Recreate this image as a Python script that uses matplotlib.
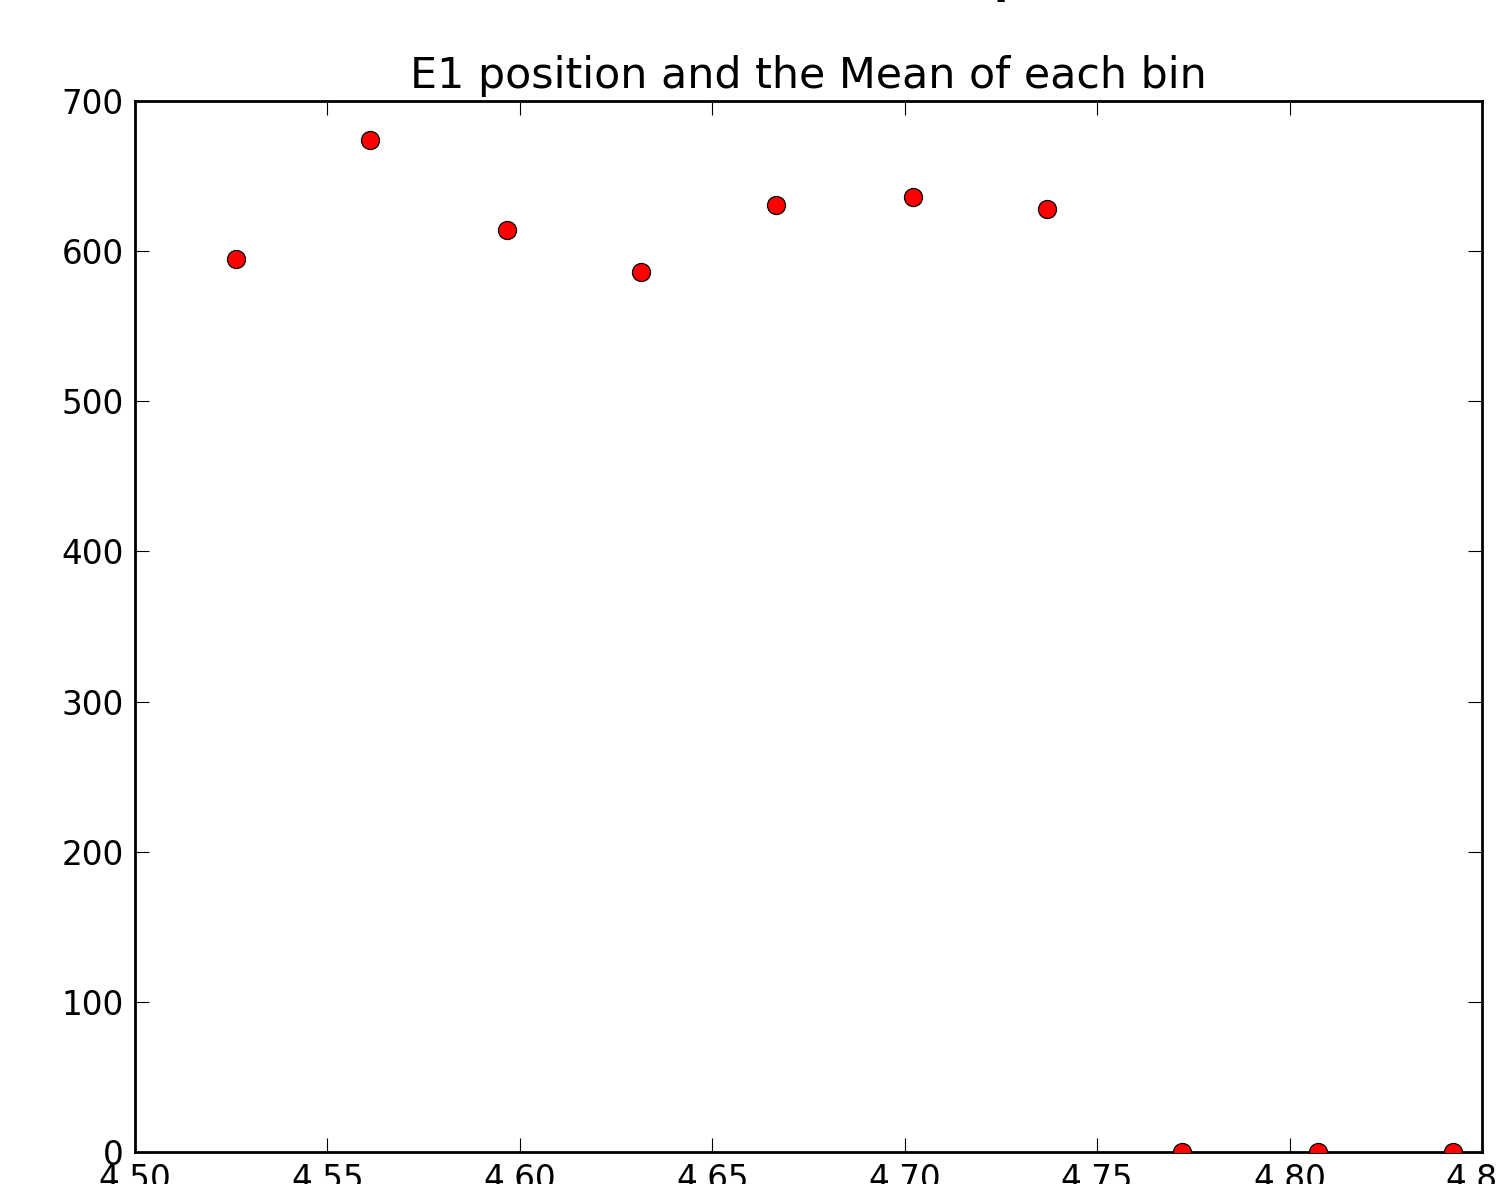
import numpy as np
import matplotlib as mpl
mpl.use('Agg')
import matplotlib.pyplot as plt

# bin centres (E1 position) and the mean of each bin
bin_pos = [4.5262, 4.5611, 4.5966, 4.6316, 4.6666, 4.7021, 4.7370, 4.7720, 4.8073, 4.8425]
bin_mean = [595, 674, 614, 586, 631, 636, 628, 0, 0, 0]

fig = plt.figure(figsize=(14.98, 11.84), dpi=100)
ax = fig.add_axes([135/1498., 32/1184., (1482-135)/1498., (1152-101)/1184.])

ax.plot(bin_pos, bin_mean, 'o', color='red', markeredgecolor='black',
        markeredgewidth=0.9, markersize=13, zorder=3)

ax.set_xlim(4.50, 4.85)
ax.set_ylim(0, 700)
ax.set_xticks(np.arange(4.50, 4.851, 0.05))
ax.set_yticks(np.arange(0, 701, 100))
ax.xaxis.set_major_formatter(mpl.ticker.FormatStrFormatter('%.2f'))

ax.tick_params(direction='in', length=10, width=0.8, top=True, right=True,
               labelsize=23.5, pad=8)
for s in ax.spines.values():
    s.set_linewidth(2.0)

ax.set_title('E1 position and the Mean of each bin', fontsize=30.8, pad=9)

# descender of a heading cut off by the top edge
fig.text(0.6735, 1.006, 'p', fontsize=30, fontweight='bold', va='baseline', ha='center')

fig.savefig('out.png', dpi=100)
